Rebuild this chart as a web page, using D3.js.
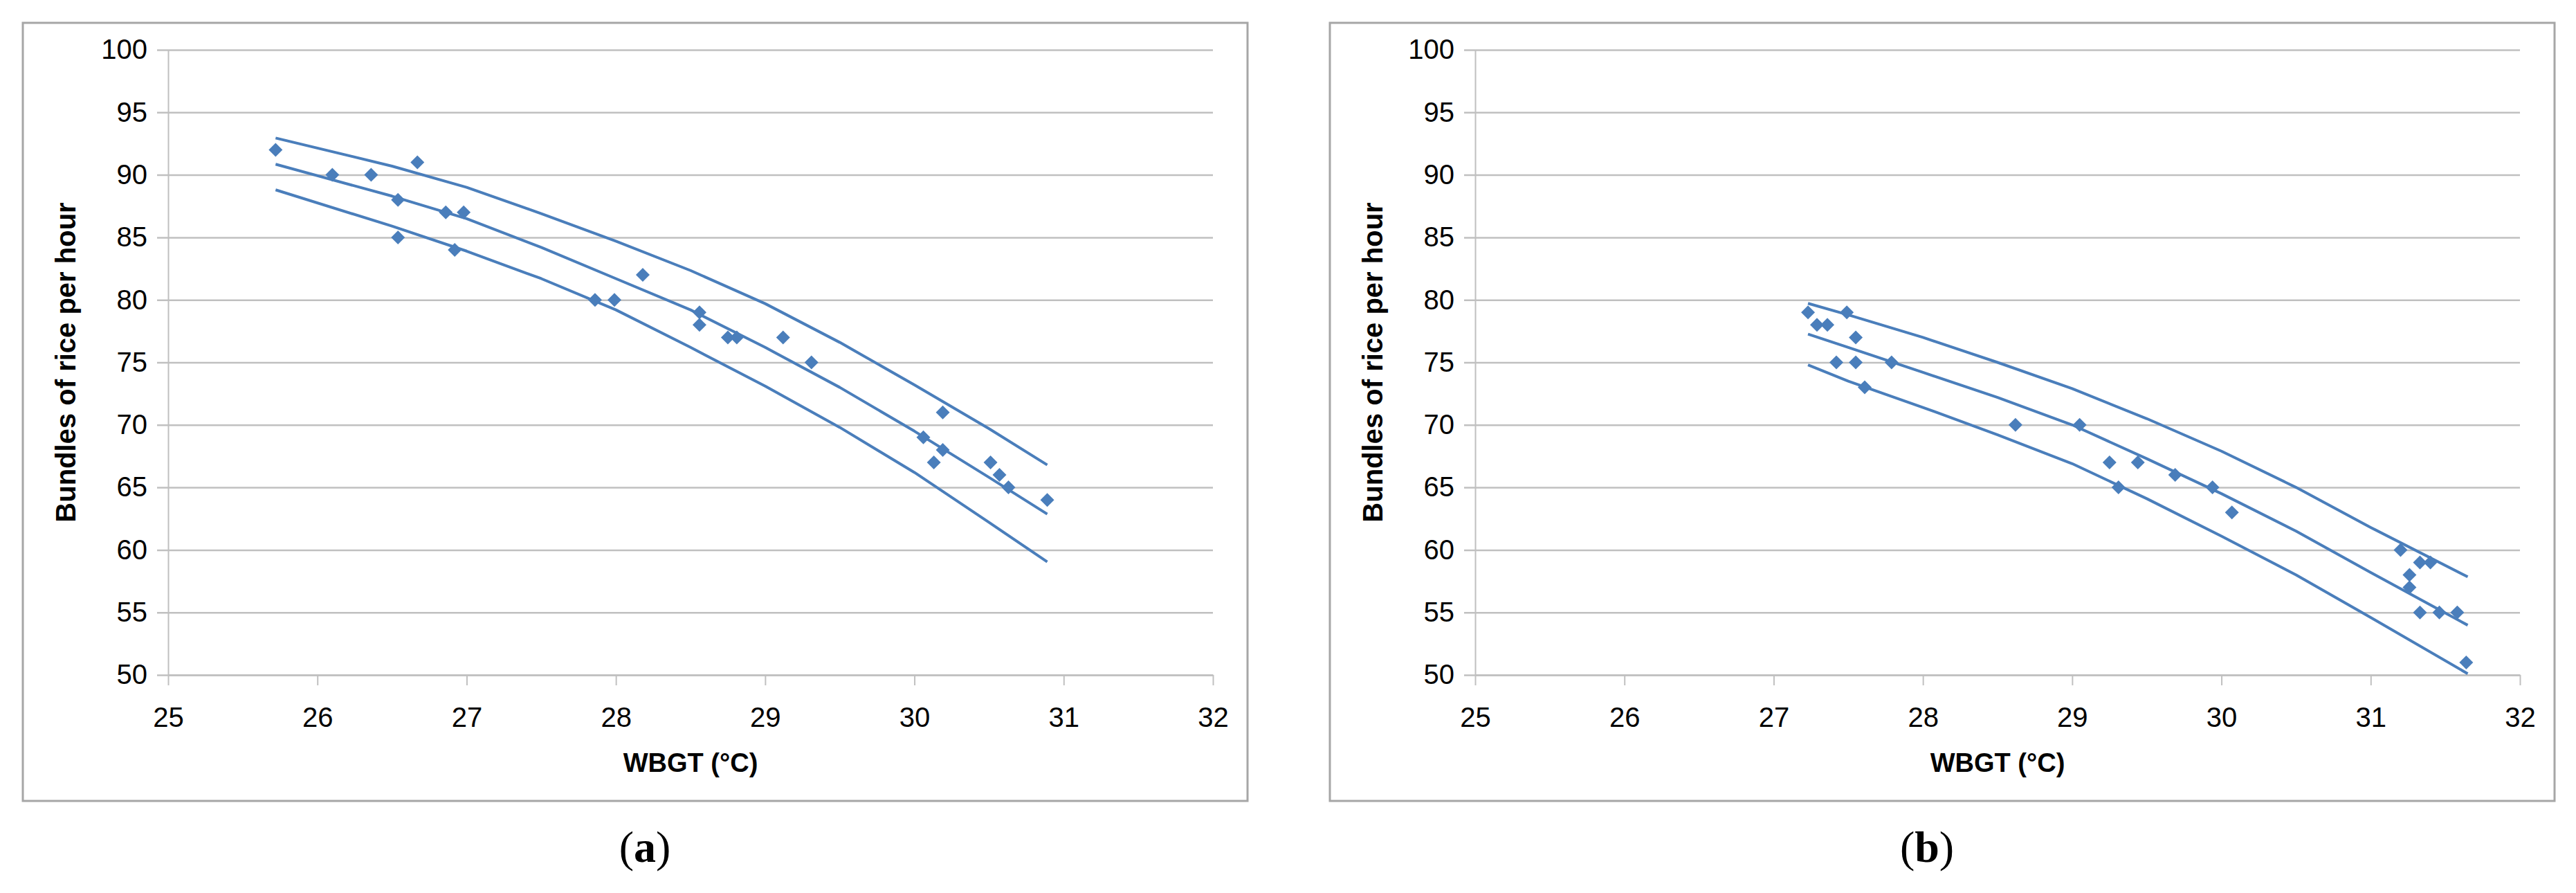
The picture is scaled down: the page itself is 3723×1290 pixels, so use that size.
<!DOCTYPE html>
<html>
<head>
<meta charset="utf-8">
<script src="https://cdn.jsdelivr.net/npm/d3@7/dist/d3.min.js"></script>
<style>
  body { margin: 0; background: #fff; }
  svg { display: block; }
</style>
</head>
<body>
<div id="chart"></div>
<script>
// panel (a): observations
const wbgtA = [25.72, 26.10, 26.36, 26.67, 26.54, 26.54, 26.86, 26.98, 26.92, 27.86, 27.99, 28.18, 28.56,
  28.56, 28.75, 28.81, 29.12, 29.31, 30.06, 30.13, 30.19, 30.19, 30.51, 30.57, 30.63, 30.89];
const bundlesA = [92, 90, 90, 91, 88, 85, 87, 87, 84, 80, 80, 82, 79, 78, 77, 77, 77, 75, 69, 67, 71, 68,
  67, 66, 65, 64];

// panel (a): fitted line and its upper / lower band
const fitWbgtA = [25.72, 26.5, 27.0, 27.5, 28.0, 28.5, 29.0, 29.5, 30.0, 30.5, 30.89];
const upperA = [92.95, 90.7, 89.0, 86.9, 84.7, 82.35, 79.7, 76.6, 73.2, 69.7, 66.8];
const fitA = [90.85, 88.3, 86.5, 84.2, 81.7, 79.2, 76.2, 73.0, 69.5, 65.8, 62.87];
const lowerA = [88.8, 85.9, 83.9, 81.7, 79.2, 76.2, 73.1, 69.8, 66.2, 62.2, 59.05];

// panel (b): observations
const wbgtB = [27.23, 27.29, 27.36, 27.49, 27.55, 27.42, 27.55, 27.79, 27.61, 28.62, 29.05, 29.25, 29.44,
  29.31, 29.69, 29.94, 30.07, 31.20, 31.33, 31.40, 31.26, 31.26, 31.33, 31.46, 31.58, 31.64];
const bundlesB = [79, 78, 78, 79, 77, 75, 75, 75, 73, 70, 70, 67, 67, 65, 66, 65, 63, 60, 59, 59, 58, 57,
  55, 55, 55, 51];

// panel (b): fitted line and its upper / lower band
const fitWbgtB = [27.23, 27.5, 28.0, 28.5, 29.0, 29.5, 30.0, 30.5, 31.0, 31.65];
const upperB = [79.72, 78.8, 77.0, 75.0, 72.9, 70.5, 67.9, 65.0, 61.8, 57.85];
const fitB = [77.26, 76.2, 74.2, 72.2, 70.0, 67.3, 64.5, 61.5, 58.2, 53.98];
const lowerB = [74.8, 73.5, 71.4, 69.2, 66.9, 64.1, 61.1, 58.0, 54.6, 50.1];

// axes
const xTicks = [25, 26, 27, 28, 29, 30, 31, 32];
const yTicks = [50, 55, 60, 65, 70, 75, 80, 85, 90, 95, 100];
const xTitle = 'WBGT (°C)';
const yTitle = 'Bundles of rice per hour';
const panelLetters = ['a', 'b'];

const BLUE = '#4a7ebb';
const GRID = '#c0c0c0';
const FRAME = '#a6a6a6';

class ScatterPanel {
  constructor(svg, left, letterShift) {
    this.svg = svg;
    this.config = {
      left,
      letterShift,
      top: 33,
      width: 1770,
      height: 1124,
      plot: { left: 210, right: 50, top: 39, bottom: 182 },
      marker: 10,
    };
    this.scales = { x: null, y: null };
  }

  draw(wbgt, bundles, fitWbgt, bands, letter) {
    this.g = this.svg.append('g')
      .attr('transform', `translate(${this.config.left},${this.config.top})`);

    return this
      .setUpScales()
      .drawFrame(letter)
      .drawAxes()
      .drawLines(fitWbgt, bands)
      .drawPoints(wbgt, bundles);
  }

  setUpScales() {
    const { width, height, plot } = this.config;
    this.scales.x = d3.scaleLinear()
      .domain([xTicks[0], xTicks[xTicks.length - 1]])
      .range([plot.left, width - plot.right]);
    this.scales.y = d3.scaleLinear()
      .domain([yTicks[0], yTicks[yTicks.length - 1]])
      .range([height - plot.bottom, plot.top]);
    return this;
  }

  drawFrame(letter) {
    const { width, height, letterShift } = this.config;

    this.g.append('rect')
      .attr('x', 0)
      .attr('y', 0)
      .attr('width', width)
      .attr('height', height)
      .attr('fill', '#fff')
      .attr('stroke', FRAME)
      .attr('stroke-width', 3);

    this.g.append('text')
      .attr('x', width / 2 + letterShift)
      .attr('y', 1212)
      .attr('text-anchor', 'middle')
      .attr('font-family', '"Liberation Serif", serif')
      .attr('font-size', 64)
      .attr('fill', '#000')
      .call((t) => t.append('tspan').text('('))
      .call((t) => t.append('tspan').attr('font-weight', 'bold').text(letter))
      .call((t) => t.append('tspan').text(')'));

    return this;
  }

  drawAxes() {
    const { x, y } = this.scales;
    const [x0, x1] = x.range();
    const [y0] = y.range();

    // horizontal gridlines, running out to the left as tick marks
    this.g.append('g')
      .attr('transform', `translate(${x0},0)`)
      .call(d3.axisLeft(y)
        .tickValues(yTicks)
        .tickSize(-(x1 - x0))
        .tickSizeOuter(0)
        .tickPadding(30))
      .call((a) => a.select('.domain').attr('stroke', GRID).attr('stroke-width', 2))
      .call((a) => a.selectAll('.tick line')
        .attr('x1', -16)
        .attr('stroke', GRID)
        .attr('stroke-width', 2.5))
      .call((a) => a.selectAll('.tick text')
        .attr('font-family', '"Liberation Sans", Arial, sans-serif')
        .attr('font-size', 40)
        .attr('fill', '#000'));

    this.g.append('g')
      .attr('transform', `translate(0,${y0})`)
      .call(d3.axisBottom(x)
        .tickValues(xTicks)
        .tickFormat(d3.format('d'))
        .tickSize(15)
        .tickSizeOuter(0)
        .tickPadding(32))
      .call((a) => a.select('.domain').attr('stroke', GRID).attr('stroke-width', 2.5))
      .call((a) => a.selectAll('.tick line').attr('stroke', GRID).attr('stroke-width', 2))
      .call((a) => a.selectAll('.tick text')
        .attr('font-family', '"Liberation Sans", Arial, sans-serif')
        .attr('font-size', 40)
        .attr('fill', '#000'));

    this.g.append('text')
      .attr('x', (x0 + x1) / 2)
      .attr('y', 1082)
      .attr('text-anchor', 'middle')
      .attr('font-family', '"Liberation Sans", Arial, sans-serif')
      .attr('font-weight', 'bold')
      .attr('font-size', 38)
      .attr('fill', '#000')
      .text(xTitle);

    const midY = (y.range()[0] + y.range()[1]) / 2;
    this.g.append('text')
      .attr('transform', `translate(62,${midY}) rotate(-90)`)
      .attr('text-anchor', 'middle')
      .attr('dominant-baseline', 'central')
      .attr('font-family', '"Liberation Sans", Arial, sans-serif')
      .attr('font-weight', 'bold')
      .attr('font-size', 40)
      .attr('fill', '#000')
      .text(yTitle);

    return this;
  }

  drawLines(fitWbgt, bands) {
    const { x, y } = this.scales;
    const line = d3.line()
      .x((d) => x(d[0]))
      .y((d) => y(d[1]));

    this.g.append('g')
      .selectAll('path')
      .data(bands.map((band) => fitWbgt.map((w, i) => [w, band[i]])))
      .join('path')
      .attr('d', line)
      .attr('fill', 'none')
      .attr('stroke', BLUE)
      .attr('stroke-width', 4)
      .attr('stroke-linejoin', 'round');

    return this;
  }

  drawPoints(wbgt, bundles) {
    const { x, y } = this.scales;
    const r = this.config.marker;

    this.g.append('g')
      .selectAll('path')
      .data(wbgt.map((w, i) => [w, bundles[i]]))
      .join('path')
      .attr('transform', (d) => `translate(${x(d[0])},${y(d[1])})`)
      .attr('d', `M0,${-r}L${r},0L0,${r}L${-r},0Z`)
      .attr('fill', BLUE);

    return this;
  }
}

const svg = d3.select('#chart')
  .append('svg')
  .attr('width', 3723)
  .attr('height', 1290);

new ScatterPanel(svg, 33, 14).draw(wbgtA, bundlesA, fitWbgtA, [upperA, fitA, lowerA], panelLetters[0]);
new ScatterPanel(svg, 1922, -22).draw(wbgtB, bundlesB, fitWbgtB, [upperB, fitB, lowerB], panelLetters[1]);
</script>
</body>
</html>
